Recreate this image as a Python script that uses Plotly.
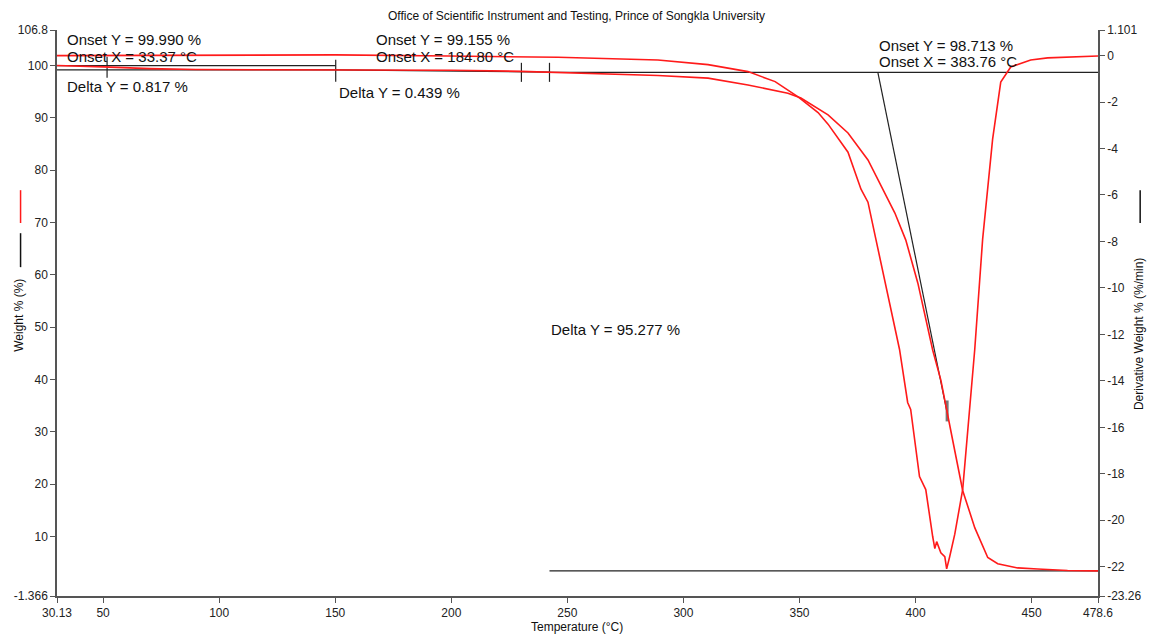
import plotly.graph_objects as go

# ---------------- data ----------------
temp_weight = [30.13, 35, 50, 70, 90, 120, 150, 185, 200, 230, 242.7, 260, 289, 310.6,
               327.8, 345.0, 350.6, 362.3, 370.9, 379.5, 385.9, 391.1, 395.8, 401.0,
               407.4, 410.9, 416.0, 420.3, 425.5, 431.1, 435.4, 444.0, 452.6, 465.5, 478.6]
weight_pct = [100.02, 99.97, 99.75, 99.42, 99.25, 99.19, 99.17, 99.155, 99.12, 98.9, 98.72,
              98.55, 98.1, 97.6, 96.3, 94.7, 93.8, 90.57, 87.13, 81.96, 76.22, 71.82, 66.65,
              58.42, 45.6, 39.9, 28.4, 18.8, 11.7, 6.0, 4.8, 4.0, 3.8, 3.52, 3.44]

temp_deriv = [30.13, 91, 150, 199, 246, 289, 310.6, 327.8, 339.5, 349.4, 358, 362.3, 370.9,
              376.5, 379.5, 382.9, 388.1, 393.1, 396.6, 397.9, 401.7, 404.4, 407.4, 408.3,
              409.1, 410.9, 412.6, 413.4, 414.7, 416.9, 420.3, 422.5, 425.5, 428.9, 433.2,
              436.7, 441.0, 449.6, 456.9, 478.6]
deriv_weight = [0.0, 0.03, 0.03, -0.02, -0.07, -0.19, -0.39, -0.69, -1.12, -1.78, -2.45, -2.95,
                -4.16, -5.75, -6.31, -7.9, -10.3, -12.65, -14.93, -15.23, -18.12, -18.68, -20.71,
                -21.22, -20.92, -21.4, -21.57, -22.09, -21.57, -20.6, -18.68, -16.18, -12.65,
                -7.9, -3.6, -1.14, -0.49, -0.19, -0.10, -0.02]

# analysis construction lines (temperature pairs, weight pairs) on the weight axis
step_lines_x = [[30.13, 150.2], [30.13, 150.2], [150.2, 242.3], [242.3, 478.6], [242.3, 478.6],
                [383.76, 413.4]]
step_lines_y = [[99.99, 99.99], [99.173, 99.173], [99.17, 98.75], [98.713, 98.713],
                [3.436, 3.436], [98.713, 34.1]]
tick_marks_x = [51.7, 150.2, 230.2, 242.3]
tick_marks_y = [[101.67, 97.66], [101.1, 96.89], [100.53, 96.89], [100.53, 96.89]]
marker_gray_x = 413.6
marker_gray_y = [36.0, 32.0]

x_tickvals = [30.13, 50, 100, 150, 200, 250, 300, 350, 400, 450, 478.6]
x_ticktext = ["30.13", "50", "100", "150", "200", "250", "300", "350", "400", "450", "478.6"]
y_tickvals = [-1.366, 10, 20, 30, 40, 50, 60, 70, 80, 90, 100, 106.8]
y_ticktext = ["-1.366", "10", "20", "30", "40", "50", "60", "70", "80", "90", "100", "106.8"]
y2_tickvals = [-23.26, -22, -20, -18, -16, -14, -12, -10, -8, -6, -4, -2, 0, 1.101]
y2_ticktext = ["-23.26", "-22", "-20", "-18", "-16", "-14", "-12", "-10", "-8", "-6", "-4",
               "-2", "0", "1.101"]

labels_text = ["Onset Y = 99.990 %", "Onset X = 33.37 °C", "Delta Y = 0.817 %",
               "Onset Y = 99.155 %", "Onset X = 184.80 °C", "Delta Y = 0.439 %",
               "Onset Y = 98.713 %", "Onset X = 383.76 °C", "Delta Y = 95.277 %"]
labels_x = [33.7, 33.7, 33.7, 166.5, 166.5, 150.6, 383.2, 383.2, 242.3]
labels_y = [104.89, 101.83, 95.91, 104.89, 101.83, 94.95, 103.93, 100.69, 49.66]

title_text = "Office of Scientific Instrument and Testing, Prince of Songkla University"

# ---------------- figure ----------------
FONT = "Liberation Sans, Arial, sans-serif"
RED = "#ff1a1a"
AX = "#555555"

fig = go.Figure()

for lx, ly in zip(step_lines_x, step_lines_y):
    fig.add_trace(go.Scatter(x=lx, y=ly, mode="lines", yaxis="y",
                             line=dict(color="#222222", width=1.2), showlegend=False,
                             hoverinfo="skip"))
for tx, ty in zip(tick_marks_x, tick_marks_y):
    fig.add_trace(go.Scatter(x=[tx, tx], y=ty, mode="lines", yaxis="y",
                             line=dict(color="#222222", width=1.2), showlegend=False,
                             hoverinfo="skip"))
fig.add_trace(go.Scatter(x=[marker_gray_x, marker_gray_x], y=marker_gray_y, mode="lines",
                         yaxis="y", line=dict(color="#777777", width=3), showlegend=False,
                         hoverinfo="skip"))

fig.add_trace(go.Scatter(x=temp_weight, y=weight_pct, mode="lines", yaxis="y",
                         line=dict(color=RED, width=1.6), name="Weight %", showlegend=False))
fig.add_trace(go.Scatter(x=temp_deriv, y=deriv_weight, mode="lines", yaxis="y2",
                         line=dict(color=RED, width=1.6), name="Derivative Weight %",
                         showlegend=False))

annotations = []
for t, x, y in zip(labels_text, labels_x, labels_y):
    annotations.append(dict(text=t, x=x, y=y, xref="x", yref="y", xanchor="left",
                            yanchor="middle", showarrow=False,
                            font=dict(family=FONT, size=15, color="#111111")))
annotations += [
    dict(text=title_text, x=0.4995, y=1.0247, xref="paper", yref="paper", xanchor="center",
         yanchor="middle", showarrow=False, font=dict(family=FONT, size=12, color="#111111")),
    dict(text="Temperature (°C)", x=0.4995, y=-0.0548, xref="paper", yref="paper",
         xanchor="center", yanchor="middle", showarrow=False,
         font=dict(family=FONT, size=12, color="#111111")),
    dict(text="Weight % (%)", x=-0.036, y=0.496, xref="paper", yref="paper", textangle=-90,
         xanchor="center", yanchor="middle", showarrow=False,
         font=dict(family=FONT, size=12, color="#111111")),
    dict(text="Derivative Weight % (%/min)", x=1.0395, y=0.4629, xref="paper", yref="paper",
         textangle=-90, xanchor="center", yanchor="middle", showarrow=False,
         font=dict(family=FONT, size=12, color="#111111")),
]

shapes = [
    dict(type="line", xref="paper", yref="paper", x0=-0.035, x1=-0.035, y0=0.659, y1=0.717,
         line=dict(color=RED, width=1.5)),
    dict(type="line", xref="paper", yref="paper", x0=-0.035, x1=-0.035, y0=0.581, y1=0.641,
         line=dict(color="#111111", width=1.5)),
    dict(type="line", xref="paper", yref="paper", x0=1.0405, x1=1.0405, y0=0.659, y1=0.717,
         line=dict(color="#111111", width=1.5)),
]

axis_common = dict(showgrid=False, zeroline=False, showline=True, linecolor=AX, linewidth=1.5,
                   ticks="outside", ticklen=5, tickcolor=AX, tickwidth=1,
                   tickfont=dict(family=FONT, size=12, color="#222222"))

fig.update_layout(
    width=1154, height=641,
    margin=dict(l=57, r=54, t=30, b=45),
    paper_bgcolor="white", plot_bgcolor="white",
    showlegend=False,
    xaxis=dict(range=[30.13, 478.6], tickvals=x_tickvals, ticktext=x_ticktext, **axis_common),
    yaxis=dict(range=[-1.366, 106.8], tickvals=y_tickvals, ticktext=y_ticktext, **axis_common),
    yaxis2=dict(range=[-23.26, 1.101], tickvals=y2_tickvals, ticktext=y2_ticktext,
                overlaying="y", side="right", **axis_common),
    annotations=annotations,
    shapes=shapes,
)

fig.write_html(
    "out.html",
    config={"displayModeBar": False},
    post_script="document.body.style.margin='0';document.body.style.overflow='hidden';",
)
